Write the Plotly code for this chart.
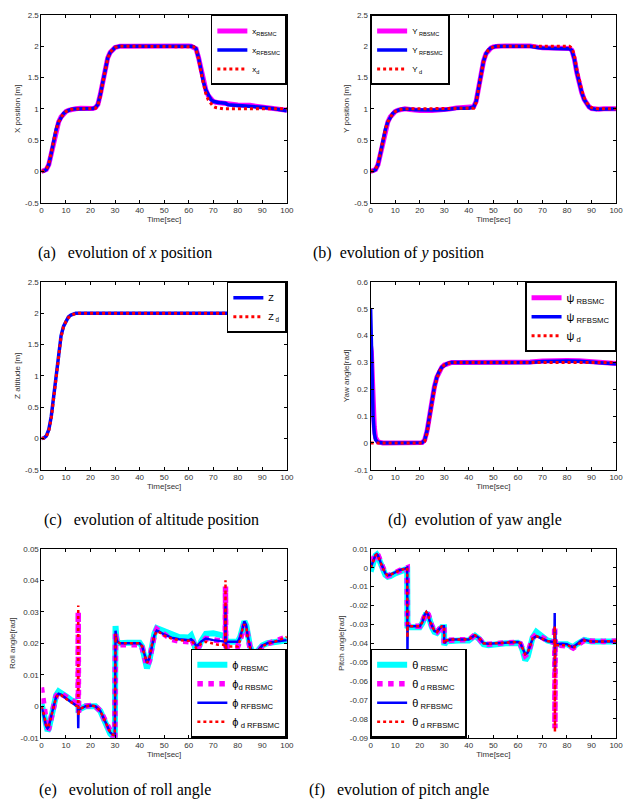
import plotly.graph_objects as go

# ---------------- data ----------------
t_x = [0,1,2,3,4,5,6,7,8,9,10,11,12,13,14,16,18,20,21,22,23,24,25,26,27,28,29,30,31,32,
       35,40,45,50,55,60,61,62,63,64,65,66,67,68,69,70,71,72,73,74,75,76,78,80,85,90,95,100]
x_d = [0,0.01,0.04,0.12,0.3,0.5,0.67,0.79,0.87,0.925,0.955,0.975,0.988,0.995,1.0,
       1.0,1.0,1.0,
       1.0,1.01,1.05,1.2,1.42,1.64,1.8,1.9,1.95,1.98,1.99,2.0,
       2.0,2.0,2.0,2.0,2.0,2.0,
       2.0,1.99,1.95,1.8,1.58,1.38,1.24,1.14,1.08,1.04,1.02,1.01,1.005,1.0,1.0,1.0,
       1.0,1.0,1.0,1.0,1.0,1.0]
x_rfb = [0,0.005,0.03,0.11,0.29,0.5,0.67,0.79,0.87,0.925,0.955,0.975,0.99,0.998,1.0,
         1.005,1.0,1.0,
         1.005,1.02,1.07,1.23,1.45,1.66,1.81,1.9,1.95,1.98,1.99,2.0,
         2.0,2.0,2.0,2.005,2.005,2.0,
         2.0,1.99,1.96,1.82,1.62,1.43,1.3,1.21,1.15,1.12,1.105,1.1,1.095,1.09,1.09,1.065,
         1.06,1.055,1.045,1.025,1.0,0.97]
x_rb = [0,0.005,0.03,0.11,0.29,0.5,0.67,0.79,0.87,0.925,0.955,0.975,0.99,0.998,1.0,
        1.01,1.005,1.0,
        1.005,1.02,1.07,1.23,1.45,1.66,1.81,1.9,1.95,1.98,1.99,2.0,
        2.0,2.005,2.01,2.01,2.01,2.005,
        2.0,1.99,1.96,1.82,1.62,1.43,1.3,1.21,1.15,1.12,1.105,1.1,1.095,1.09,1.09,1.07,
        1.065,1.06,1.055,1.035,1.005,0.975]

t_y = [0,1,2,3,4,5,6,7,8,9,10,11,12,13,14,16,18,20,25,30,32,35,40,
       41,42,43,44,45,46,47,48,49,50,51,52,55,60,62,65,68,70,75,80,
       81,82,83,84,85,86,87,88,89,90,91,92,93,95,100]
y_d = [0,0.01,0.04,0.12,0.3,0.5,0.67,0.79,0.87,0.925,0.955,0.975,0.988,0.995,1.0,
       1.0,1.0,1.0,1.0,1.0,1.0,1.0,1.0,
       1.0,1.01,1.1,1.3,1.55,1.75,1.87,1.94,1.97,1.99,2.0,2.0,
       2.0,2.0,2.0,2.0,2.0,2.0,2.0,2.0,
       2.0,1.97,1.86,1.64,1.45,1.3,1.18,1.1,1.05,1.02,1.01,1.0,1.0,1.0,1.0]
y_rfb = [0,0.005,0.03,0.11,0.29,0.5,0.67,0.79,0.87,0.925,0.955,0.975,0.99,0.998,1.0,
         0.995,0.985,0.98,0.98,0.985,1.0,1.01,1.01,
         1.015,1.03,1.12,1.33,1.57,1.76,1.88,1.94,1.97,1.99,2.0,2.0,
         2.0,2.005,2.01,2.0,1.98,1.97,1.965,1.965,
         1.96,1.93,1.8,1.58,1.4,1.26,1.15,1.08,1.03,1.005,0.995,0.99,0.995,1.0,1.0]
y_rb = [0,0.005,0.03,0.11,0.29,0.5,0.67,0.79,0.87,0.925,0.955,0.975,0.99,0.998,1.0,
        0.99,0.98,0.975,0.975,0.98,0.995,1.015,1.015,
        1.02,1.035,1.12,1.33,1.57,1.76,1.88,1.94,1.97,1.99,2.0,2.0,
        2.005,2.01,2.015,2.005,1.985,1.975,1.97,1.97,
        1.965,1.935,1.8,1.58,1.4,1.26,1.15,1.08,1.03,1.005,0.995,0.99,0.995,1.0,1.0]

t_z = [0,1,2,3,4,5,6,7,8,9,10,11,12,13,14,15,20,30,40,46,50,60,70,80,90,100]
z_d = [0,0.005,0.03,0.12,0.32,0.65,1.02,1.38,1.62,1.78,1.87,1.93,1.96,1.98,1.995,2.0,
       2.0,2.0,2.0,2.0,2.0,2.0,2.0,2.0,2.0,2.0]
z_act = [0,0.005,0.04,0.14,0.35,0.68,1.05,1.4,1.64,1.79,1.88,1.94,1.97,1.99,2.0,2.0,
         2.0,2.0,2.0,2.005,2.0,2.0,2.0,2.0,2.0,2.0]

t_yaw = [0,0.3,0.6,1,1.5,2,3,5,10,15,20,21,22,23,24,25,26,27,28,29,30,31,32,33,
         35,40,50,60,62,65,70,75,80,85,88,90,95,100]
psi_d = [0,0,0,0,0,0,0,0,0,0,0,
         0,0.005,0.035,0.09,0.15,0.2,0.24,0.265,0.28,0.29,0.295,0.298,0.3,
         0.3,0.3,0.3,0.3,0.3,0.3,0.3,0.3,0.3,0.3,0.3,0.3,0.3,0.3]
psi_rfb = [0.5,0.38,0.22,0.1,0.035,0.012,0.002,0.0,0,0,0,
           0.001,0.01,0.045,0.1,0.16,0.21,0.245,0.268,0.282,0.29,0.295,0.298,0.3,
           0.3,0.3,0.3,0.299,0.298,0.3,0.303,0.305,0.305,0.304,0.303,0.301,0.298,0.295]
psi_rb = [0.36,0.34,0.27,0.15,0.06,0.02,0.004,0.0,0,0,0,
          0.001,0.01,0.045,0.1,0.16,0.21,0.245,0.268,0.282,0.29,0.295,0.298,0.3,
          0.3,0.3,0.3,0.299,0.298,0.301,0.305,0.307,0.307,0.306,0.304,0.302,0.299,0.296]

t_roll = [0,1,2,2.5,3,4,5,6,7,8,10,12,14,14.9,15.0,15.1,15.3,16,18,20,
          22,24,26,28,29,29.9,30.0,30.2,30.5,31,32,35,38,40,41,42,43,44,45,46,
          47,48,50,53,56,60,61,62,63,64,65,67,70,72,74.9,75.0,75.1,75.3,76,80,
          81,82,82.7,83.5,84,85,86,87,88,90,92,95,100]
phi_rb = [0.001,-0.0035,-0.0072,-0.0078,-0.0072,-0.0035,0.0005,0.0035,0.0047,0.0043,
          0.0032,0.002,0.0012,0.001,0.001,-0.001,-0.001,-0.0008,0.0,0.0002,
          0.0,-0.0015,-0.0052,-0.0087,-0.0095,-0.0095,0.0,0.0255,0.022,0.0205,
          0.02,0.0202,0.02,0.0202,0.019,0.016,0.012,0.0145,0.0195,0.023,
          0.0248,0.0245,0.0235,0.0225,0.022,0.0218,0.0225,0.0205,0.0175,0.0185,
          0.0205,0.023,0.0232,0.0228,0.0222,0.0222,0.0205,0.0205,0.0205,0.0205,
          0.022,0.0255,0.027,0.0255,0.0225,0.019,0.0172,0.0168,0.0175,0.0193,
          0.02,0.0205,0.021]
phi_d_rb = [0.006,0.0,-0.0068,-0.0078,-0.007,-0.0033,0.0005,0.0032,0.0042,0.004,
            0.003,0.0018,0.001,0.001,0.03,-0.002,-0.001,-0.0008,0.0,0.0002,
            0.0,-0.0015,-0.005,-0.0085,-0.0093,-0.0093,0.0,0.0235,0.021,0.0198,
            0.0195,0.0195,0.0195,0.0195,0.0187,0.016,0.0128,0.0145,0.0193,0.0228,
            0.0245,0.024,0.0225,0.0212,0.0207,0.0205,0.0215,0.0198,0.0182,0.0188,
            0.02,0.0215,0.0212,0.0208,0.0205,0.038,0.016,0.019,0.019,0.019,
            0.021,0.0248,0.026,0.025,0.022,0.0185,0.0165,0.0162,0.017,0.019,
            0.0198,0.0205,0.022]
phi_rfb = [0.0,-0.003,-0.0065,-0.007,-0.0065,-0.003,0.0005,0.003,0.004,0.0037,
           0.0025,0.0013,0.0003,0.0,-0.007,-0.002,-0.001,-0.0008,0.0,0.0002,
           0.0,-0.0015,-0.005,-0.0083,-0.009,-0.0092,0.0,0.024,0.0215,0.0205,
           0.02,0.02,0.02,0.02,0.0192,0.0165,0.0138,0.0152,0.0195,0.0225,
           0.024,0.0237,0.0228,0.0218,0.0213,0.021,0.0213,0.0205,0.0192,0.0195,
           0.0205,0.0215,0.021,0.0208,0.0205,0.032,0.014,0.0205,0.0205,0.0205,
           0.022,0.0255,0.027,0.0255,0.0225,0.019,0.0172,0.0168,0.0175,0.0193,
           0.02,0.0205,0.021]
phi_d_rfb = [0.0,-0.0025,-0.006,-0.0068,-0.0063,-0.003,0.0005,0.0028,0.0038,0.0035,
             0.0024,0.0012,0.0002,0.0,0.032,-0.003,-0.001,-0.0008,0.0,0.0002,
             0.0,-0.0015,-0.005,-0.0083,-0.009,-0.0092,0.0,0.023,0.021,0.0203,
             0.02,0.02,0.02,0.02,0.019,0.0163,0.0138,0.0152,0.0195,0.0223,
             0.0238,0.0235,0.0225,0.0215,0.021,0.0208,0.021,0.02,0.0185,0.019,
             0.0198,0.0205,0.0198,0.0195,0.0195,0.040,0.016,0.019,0.019,0.019,
             0.021,0.0248,0.026,0.025,0.022,0.0185,0.0165,0.0162,0.017,0.019,
             0.0198,0.0205,0.022]

t_pitch = [0,1,2,2.5,3,4,5,6,7,8,10,12,14,14.9,15.0,15.1,15.3,16,18,20,
           21,22,22.7,23.5,24,25,26,27,28,29,29.9,30.0,30.3,31,33,36,40,41,42.5,44,
           45,46,48,50,55,60,61,62,63,64,65,66,67.5,69,72,74.9,75.0,75.1,75.2,75.4,
           76,78,80,81,82.5,84,86,87,88,90,95,100]
th_rb = [-0.002,0.003,0.0065,0.007,0.006,0.0025,-0.001,-0.0038,-0.0048,-0.0045,
         -0.003,-0.0018,-0.001,-0.001,-0.032,-0.031,-0.0315,-0.0315,-0.0315,-0.0315,
         -0.0295,-0.0255,-0.024,-0.0255,-0.0285,-0.0315,-0.034,-0.0345,-0.033,-0.0315,
         -0.0315,-0.041,-0.04,-0.039,-0.0385,-0.0385,-0.0385,-0.0375,-0.036,-0.0375,
         -0.039,-0.0405,-0.041,-0.0405,-0.04,-0.0398,-0.0405,-0.044,-0.049,-0.047,
         -0.042,-0.037,-0.034,-0.0355,-0.0385,-0.0395,-0.0395,-0.0405,-0.0405,-0.0405,
         -0.0405,-0.0403,-0.0405,-0.0412,-0.042,-0.0405,-0.0385,-0.0382,-0.0385,-0.039,
         -0.039,-0.039]
th_d_rb = [0.005,0.0045,0.007,0.0075,0.0067,0.003,-0.0007,-0.0033,-0.0043,-0.004,
           -0.0027,-0.0014,-0.0006,0.0,-0.03,-0.03,-0.0305,-0.031,-0.031,-0.031,
           -0.029,-0.025,-0.0233,-0.0248,-0.028,-0.031,-0.0335,-0.034,-0.0325,-0.031,
           -0.031,-0.04,-0.039,-0.0385,-0.0382,-0.0382,-0.0382,-0.0372,-0.0355,-0.0372,
           -0.0388,-0.0405,-0.0405,-0.0402,-0.0398,-0.0395,-0.0402,-0.0435,-0.0465,-0.0455,
           -0.0415,-0.0372,-0.0352,-0.0365,-0.0385,-0.0395,-0.031,-0.085,-0.038,-0.041,
           -0.041,-0.041,-0.041,-0.0415,-0.0425,-0.041,-0.039,-0.0385,-0.0388,-0.039,
           -0.039,-0.0388]
th_rfb = [0.0,0.004,0.0068,0.0072,0.0065,0.003,-0.0005,-0.003,-0.004,-0.0037,
          -0.0025,-0.0012,-0.0005,0.0,-0.047,-0.03,-0.031,-0.031,-0.031,-0.031,
          -0.029,-0.025,-0.0235,-0.025,-0.028,-0.031,-0.0335,-0.034,-0.0325,-0.031,
          -0.031,-0.04,-0.0395,-0.0385,-0.038,-0.038,-0.038,-0.037,-0.0357,-0.037,
          -0.0385,-0.04,-0.0402,-0.04,-0.0395,-0.0393,-0.04,-0.043,-0.0458,-0.045,
          -0.041,-0.0375,-0.0362,-0.037,-0.0388,-0.0395,-0.024,-0.055,-0.033,-0.04,
          -0.0405,-0.0403,-0.0405,-0.0412,-0.042,-0.0405,-0.0385,-0.0382,-0.0385,-0.039,
          -0.039,-0.039]
th_d_rfb = [0.0,0.0038,0.0066,0.007,0.0063,0.0028,-0.0006,-0.0031,-0.0041,-0.0038,
            -0.0026,-0.0013,-0.0005,0.0,-0.037,-0.029,-0.0305,-0.031,-0.031,-0.031,
            -0.029,-0.025,-0.0235,-0.025,-0.028,-0.031,-0.0335,-0.034,-0.0325,-0.031,
            -0.031,-0.04,-0.0395,-0.0385,-0.038,-0.038,-0.038,-0.037,-0.0357,-0.037,
            -0.0385,-0.04,-0.0402,-0.04,-0.0395,-0.0393,-0.04,-0.043,-0.0458,-0.045,
            -0.041,-0.0375,-0.0362,-0.037,-0.0388,-0.0395,-0.031,-0.087,-0.038,-0.041,
            -0.041,-0.041,-0.041,-0.0415,-0.0425,-0.041,-0.039,-0.0385,-0.0388,-0.039,
            -0.039,-0.0388]

x_ticks = [0,10,20,30,40,50,60,70,80,90,100]
x_ticktext = ["0","10","20","30","40","50","60","70","80","90","100"]
pos_ticks = [-0.5,0,0.5,1,1.5,2,2.5]
pos_ticktext = ["-0.5","0","0.5","1","1.5","2","2.5"]
yaw_ticks = [-0.1,0,0.1,0.2,0.3,0.4,0.5,0.6]
yaw_ticktext = ["-0.1","0","0.1","0.2","0.3","0.4","0.5","0.6"]
roll_ticks = [-0.01,0,0.01,0.02,0.03,0.04,0.05]
roll_ticktext = ["-0.01","0","0.01","0.02","0.03","0.04","0.05"]
pitch_ticks = [-0.09,-0.08,-0.07,-0.06,-0.05,-0.04,-0.03,-0.02,-0.01,0,0.01]
pitch_ticktext = ["-0.09","-0.08","-0.07","-0.06","-0.05","-0.04","-0.03","-0.02","-0.01","0","0.01"]

captions = ["(a)\u00a0\u00a0 evolution of <i>x</i> position",
            "(b)\u00a0\u00a0evolution of <i>y</i> position",
            "(c)\u00a0\u00a0 evolution of altitude position",
            "(d)\u00a0\u00a0evolution of yaw angle",
            "(e)\u00a0\u00a0 evolution of roll angle",
            "(f)\u00a0\u00a0 evolution of pitch angle"]

# ---------------- figure ----------------
W, H = 627, 805
MAG, BLU, RED, CYA = "#ff00ff", "#0000ff", "#ff0000", "#00ffff"
SANS = "Liberation Sans, Arial, sans-serif"

fig = go.Figure()

def add(t, y, name, color, width, dash, ax, leg):
    fig.add_trace(go.Scatter(
        x=t, y=y, name=name, mode="lines",
        line=dict(color=color, width=width, dash=dash),
        xaxis="x" + ax, yaxis="y" + ax, legend=leg, hoverinfo="skip"))

# (a)
add(t_x, x_rb, "x<sub>RBSMC</sub>", MAG, 5, "solid", "", "legend")
add(t_x, x_rfb, "x<sub>RFBSMC</sub>", BLU, 3.5, "solid", "", "legend")
add(t_x, x_d, "x<sub>d</sub>", RED, 3, "dot", "", "legend")
# (b)
add(t_y, y_rb, "Y<sub> RBSMC</sub>", MAG, 5, "solid", "2", "legend2")
add(t_y, y_rfb, "Y<sub> RFBSMC</sub>", BLU, 3.5, "solid", "2", "legend2")
add(t_y, y_d, "Y<sub> d</sub>", RED, 3, "dot", "2", "legend2")
# (c)
add(t_z, z_act, "Z", BLU, 3.5, "solid", "3", "legend3")
add(t_z, z_d, "Z<sub> d</sub>", RED, 3, "dot", "3", "legend3")
# (d)
add(t_yaw, psi_rb, "ψ<sub> RBSMC</sub>", MAG, 5, "solid", "4", "legend4")
add(t_yaw, psi_rfb, "ψ<sub> RFBSMC</sub>", BLU, 3.5, "solid", "4", "legend4")
add(t_yaw, psi_d, "ψ<sub> d</sub>", RED, 3, "dot", "4", "legend4")
# (e)
add(t_roll, phi_rb, "ϕ<sub> RBSMC</sub>", CYA, 6, "solid", "5", "legend5")
add(t_roll, phi_d_rb, "ϕ<sub>d RBSMC</sub>", MAG, 5.5, "dot", "5", "legend5")
add(t_roll, phi_rfb, "ϕ<sub> RFBSMC</sub>", BLU, 2.5, "solid", "5", "legend5")
add(t_roll, phi_d_rfb, "ϕ<sub> d RFBSMC</sub>", RED, 2.5, "dot", "5", "legend5")
# (f)
add(t_pitch, th_rb, "θ<sub> RBSMC</sub>", CYA, 6, "solid", "6", "legend6")
add(t_pitch, th_d_rb, "θ<sub> d RBSMC</sub>", MAG, 5.5, "dot", "6", "legend6")
add(t_pitch, th_rfb, "θ<sub> RFBSMC</sub>", BLU, 2.5, "solid", "6", "legend6")
add(t_pitch, th_d_rfb, "θ<sub> d RFBSMC</sub>", RED, 2.5, "dot", "6", "legend6")

def px(v):
    return v / W

def py(v):
    return 1 - v / H

XL = [px(40), px(289)]
XR = [px(374), px(623)]
Y1 = [py(201), py(11)]
Y2 = [py(471), py(281)]
Y3 = [py(742), py(551)]

def xaxis(dom, anchor):
    return dict(domain=dom, anchor=anchor, range=[0, 100], tickvals=x_ticks, ticktext=x_ticktext,
                ticks="inside", ticklen=3, tickcolor="black", showline=True, linecolor="black",
                linewidth=1, mirror="ticks", showgrid=False, zeroline=False,
                tickfont=dict(family=SANS, size=8, color="#333"),
                title=dict(text="Time[sec]", font=dict(family=SANS, size=8, color="#333"), standoff=2))

def yaxis(dom, anchor, rng, tv, tt, title):
    return dict(domain=dom, anchor=anchor, range=rng, tickvals=tv, ticktext=tt,
                ticks="inside", ticklen=3, tickcolor="black", showline=True, linecolor="black",
                linewidth=1, mirror="ticks", showgrid=False, zeroline=False,
                tickfont=dict(family=SANS, size=8, color="#333"),
                title=dict(text=title, font=dict(family=SANS, size=8, color="#333"), standoff=3))

def legend(x, y, xa, ya, size):
    return dict(x=x, y=y, xanchor=xa, yanchor=ya, bgcolor="white", bordercolor="black",
                borderwidth=1.5, font=dict(family=SANS, size=size, color="black"),
                tracegroupgap=0, itemwidth=30)

ann = []
cap_pos = [(125, 252), (402, 252), (152, 522), (480, 522), (125, 795), (403, 795)]
for txt, (cx, cy) in zip(captions, cap_pos):
    ann.append(dict(text=txt, x=px(cx), y=py(cy), xref="paper", yref="paper",
                    xanchor="center", yanchor="middle", showarrow=False,
                    font=dict(family="Liberation Serif, Times New Roman, serif", size=16, color="black")))

fig.update_layout(
    width=W, height=H, autosize=False,
    margin=dict(l=0, r=0, t=0, b=0),
    paper_bgcolor="white", plot_bgcolor="white",
    showlegend=True,
    xaxis=xaxis(XL, "y"), yaxis=yaxis(Y1, "x", [-0.5, 2.5], pos_ticks, pos_ticktext, "X position [m]"),
    xaxis2=xaxis(XR, "y2"), yaxis2=yaxis(Y1, "x2", [-0.5, 2.5], pos_ticks, pos_ticktext, "Y position [m]"),
    xaxis3=xaxis(XL, "y3"), yaxis3=yaxis(Y2, "x3", [-0.5, 2.5], pos_ticks, pos_ticktext, "Z altitude [m]"),
    xaxis4=xaxis(XR, "y4"), yaxis4=yaxis(Y2, "x4", [-0.1, 0.6], yaw_ticks, yaw_ticktext, "Yaw angle[rad]"),
    xaxis5=xaxis(XL, "y5"), yaxis5=yaxis(Y3, "x5", [-0.01, 0.05], roll_ticks, roll_ticktext, "Roll angle[rad]"),
    xaxis6=xaxis(XR, "y6"), yaxis6=yaxis(Y3, "x6", [-0.09, 0.01], pitch_ticks, pitch_ticktext, "Pitch angle[rad]"),
    legend=legend(px(289), py(11), "right", "top", 8),
    legend2=legend(px(374), py(11), "left", "top", 8),
    legend3=legend(px(289), py(281), "right", "top", 9),
    legend4=legend(px(623), py(281), "right", "top", 11),
    legend5=legend(px(289), py(742), "right", "bottom", 11),
    legend6=legend(px(374), py(742), "left", "bottom", 11),
    annotations=ann,
)

fig.write_html("out.html",
               config={"displayModeBar": False},
               post_script="document.body.style.margin='0';document.body.style.overflow='hidden';")
